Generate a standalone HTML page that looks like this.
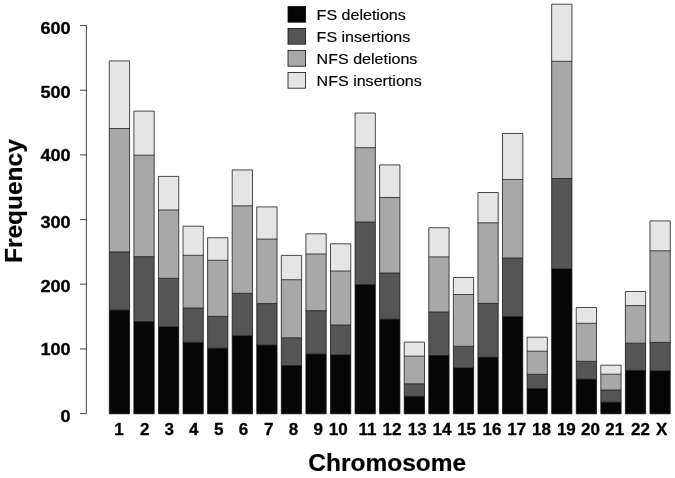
<!DOCTYPE html>
<html><head><meta charset="utf-8"><title>Chromosome frequency</title>
<style>
html,body{margin:0;padding:0;background:#fff;}
body{width:675px;height:478px;overflow:hidden;}
svg{display:block;will-change:transform;}
text{font-family:"Liberation Sans",Arial,Helvetica,sans-serif;fill:#000;}
.tk{font-size:16.45px;font-weight:bold;stroke:#000;stroke-width:0.3px;}
.ti{font-size:23.8px;font-weight:bold;stroke:#000;stroke-width:0.2px;}
.lg{font-size:14.6px;stroke:#000;stroke-width:0.15px;}
</style></head><body>
<svg width="675" height="478" viewBox="0 0 675 478">
<rect width="675" height="478" fill="#fff"/>

<g stroke="#555" stroke-width="1.1" fill="none">
<path d="M86.4 25.5V413.6"/>
<path d="M80 413.60H86.9"/>
<path d="M80 348.92H86.9"/>
<path d="M80 284.23H86.9"/>
<path d="M80 219.55H86.9"/>
<path d="M80 154.87H86.9"/>
<path d="M80 90.18H86.9"/>
<path d="M80 25.50H86.9"/>
</g>
<text class="tk" transform="translate(70.60 421.70) scale(1.1 1)" text-anchor="end">0</text>
<text class="tk" transform="translate(70.60 355.40) scale(1.1 1)" text-anchor="end">100</text>
<text class="tk" transform="translate(70.60 291.70) scale(1.1 1)" text-anchor="end">200</text>
<text class="tk" transform="translate(70.60 227.60) scale(1.1 1)" text-anchor="end">300</text>
<text class="tk" transform="translate(70.60 161.20) scale(1.1 1)" text-anchor="end">400</text>
<text class="tk" transform="translate(70.60 97.60) scale(1.1 1)" text-anchor="end">500</text>
<text class="tk" transform="translate(70.60 34.00) scale(1.1 1)" text-anchor="end">600</text>
<g stroke="none">
<rect x="109.30" y="60.90" width="20.3" height="67.60" fill="#e5e5e5"/>
<rect x="109.30" y="128.50" width="20.3" height="123.40" fill="#a8a8a8"/>
<rect x="109.30" y="251.90" width="20.3" height="58.20" fill="#555555"/>
<rect x="109.30" y="310.10" width="20.3" height="103.70" fill="#060606"/>
<rect x="133.88" y="111.10" width="20.3" height="44.10" fill="#e5e5e5"/>
<rect x="133.88" y="155.20" width="20.3" height="101.50" fill="#a8a8a8"/>
<rect x="133.88" y="256.70" width="20.3" height="64.90" fill="#555555"/>
<rect x="133.88" y="321.60" width="20.3" height="92.20" fill="#060606"/>
<rect x="158.45" y="176.40" width="20.3" height="33.60" fill="#e5e5e5"/>
<rect x="158.45" y="210.00" width="20.3" height="68.30" fill="#a8a8a8"/>
<rect x="158.45" y="278.30" width="20.3" height="48.50" fill="#555555"/>
<rect x="158.45" y="326.80" width="20.3" height="87.00" fill="#060606"/>
<rect x="183.02" y="226.20" width="20.3" height="29.10" fill="#e5e5e5"/>
<rect x="183.02" y="255.30" width="20.3" height="52.70" fill="#a8a8a8"/>
<rect x="183.02" y="308.00" width="20.3" height="34.40" fill="#555555"/>
<rect x="183.02" y="342.40" width="20.3" height="71.40" fill="#060606"/>
<rect x="207.60" y="237.70" width="20.3" height="22.60" fill="#e5e5e5"/>
<rect x="207.60" y="260.30" width="20.3" height="56.10" fill="#a8a8a8"/>
<rect x="207.60" y="316.40" width="20.3" height="31.80" fill="#555555"/>
<rect x="207.60" y="348.20" width="20.3" height="65.60" fill="#060606"/>
<rect x="232.18" y="169.90" width="20.3" height="35.90" fill="#e5e5e5"/>
<rect x="232.18" y="205.80" width="20.3" height="87.50" fill="#a8a8a8"/>
<rect x="232.18" y="293.30" width="20.3" height="42.50" fill="#555555"/>
<rect x="232.18" y="335.80" width="20.3" height="78.00" fill="#060606"/>
<rect x="256.75" y="206.90" width="20.3" height="32.20" fill="#e5e5e5"/>
<rect x="256.75" y="239.10" width="20.3" height="64.50" fill="#a8a8a8"/>
<rect x="256.75" y="303.60" width="20.3" height="41.50" fill="#555555"/>
<rect x="256.75" y="345.10" width="20.3" height="68.70" fill="#060606"/>
<rect x="281.32" y="255.40" width="20.3" height="24.30" fill="#e5e5e5"/>
<rect x="281.32" y="279.70" width="20.3" height="58.10" fill="#a8a8a8"/>
<rect x="281.32" y="337.80" width="20.3" height="27.80" fill="#555555"/>
<rect x="281.32" y="365.60" width="20.3" height="48.20" fill="#060606"/>
<rect x="305.90" y="233.80" width="20.3" height="20.20" fill="#e5e5e5"/>
<rect x="305.90" y="254.00" width="20.3" height="56.70" fill="#a8a8a8"/>
<rect x="305.90" y="310.70" width="20.3" height="43.40" fill="#555555"/>
<rect x="305.90" y="354.10" width="20.3" height="59.70" fill="#060606"/>
<rect x="330.47" y="243.80" width="20.3" height="27.20" fill="#e5e5e5"/>
<rect x="330.47" y="271.00" width="20.3" height="54.00" fill="#a8a8a8"/>
<rect x="330.47" y="325.00" width="20.3" height="29.90" fill="#555555"/>
<rect x="330.47" y="354.90" width="20.3" height="58.90" fill="#060606"/>
<rect x="355.05" y="113.00" width="20.3" height="34.70" fill="#e5e5e5"/>
<rect x="355.05" y="147.70" width="20.3" height="74.30" fill="#a8a8a8"/>
<rect x="355.05" y="222.00" width="20.3" height="62.70" fill="#555555"/>
<rect x="355.05" y="284.70" width="20.3" height="129.10" fill="#060606"/>
<rect x="379.62" y="164.90" width="20.3" height="32.60" fill="#e5e5e5"/>
<rect x="379.62" y="197.50" width="20.3" height="75.50" fill="#a8a8a8"/>
<rect x="379.62" y="273.00" width="20.3" height="46.20" fill="#555555"/>
<rect x="379.62" y="319.20" width="20.3" height="94.60" fill="#060606"/>
<rect x="404.20" y="342.10" width="20.3" height="14.00" fill="#e5e5e5"/>
<rect x="404.20" y="356.10" width="20.3" height="27.70" fill="#a8a8a8"/>
<rect x="404.20" y="383.80" width="20.3" height="12.50" fill="#555555"/>
<rect x="404.20" y="396.30" width="20.3" height="17.50" fill="#060606"/>
<rect x="428.77" y="227.70" width="20.3" height="29.20" fill="#e5e5e5"/>
<rect x="428.77" y="256.90" width="20.3" height="55.10" fill="#a8a8a8"/>
<rect x="428.77" y="312.00" width="20.3" height="43.50" fill="#555555"/>
<rect x="428.77" y="355.50" width="20.3" height="58.30" fill="#060606"/>
<rect x="453.35" y="277.50" width="20.3" height="17.00" fill="#e5e5e5"/>
<rect x="453.35" y="294.50" width="20.3" height="51.80" fill="#a8a8a8"/>
<rect x="453.35" y="346.30" width="20.3" height="21.70" fill="#555555"/>
<rect x="453.35" y="368.00" width="20.3" height="45.80" fill="#060606"/>
<rect x="477.93" y="192.50" width="20.3" height="30.30" fill="#e5e5e5"/>
<rect x="477.93" y="222.80" width="20.3" height="80.60" fill="#a8a8a8"/>
<rect x="477.93" y="303.40" width="20.3" height="53.80" fill="#555555"/>
<rect x="477.93" y="357.20" width="20.3" height="56.60" fill="#060606"/>
<rect x="502.50" y="133.50" width="20.3" height="46.00" fill="#e5e5e5"/>
<rect x="502.50" y="179.50" width="20.3" height="78.50" fill="#a8a8a8"/>
<rect x="502.50" y="258.00" width="20.3" height="58.60" fill="#555555"/>
<rect x="502.50" y="316.60" width="20.3" height="97.20" fill="#060606"/>
<rect x="527.07" y="337.20" width="20.3" height="14.00" fill="#e5e5e5"/>
<rect x="527.07" y="351.20" width="20.3" height="23.10" fill="#a8a8a8"/>
<rect x="527.07" y="374.30" width="20.3" height="14.30" fill="#555555"/>
<rect x="527.07" y="388.60" width="20.3" height="25.20" fill="#060606"/>
<rect x="551.65" y="4.20" width="20.3" height="57.10" fill="#e5e5e5"/>
<rect x="551.65" y="61.30" width="20.3" height="117.20" fill="#a8a8a8"/>
<rect x="551.65" y="178.50" width="20.3" height="90.50" fill="#555555"/>
<rect x="551.65" y="269.00" width="20.3" height="144.80" fill="#060606"/>
<rect x="576.23" y="307.50" width="20.3" height="15.80" fill="#e5e5e5"/>
<rect x="576.23" y="323.30" width="20.3" height="38.00" fill="#a8a8a8"/>
<rect x="576.23" y="361.30" width="20.3" height="17.90" fill="#555555"/>
<rect x="576.23" y="379.20" width="20.3" height="34.60" fill="#060606"/>
<rect x="600.80" y="365.20" width="20.3" height="9.00" fill="#e5e5e5"/>
<rect x="600.80" y="374.20" width="20.3" height="15.80" fill="#a8a8a8"/>
<rect x="600.80" y="390.00" width="20.3" height="12.20" fill="#555555"/>
<rect x="600.80" y="402.20" width="20.3" height="11.60" fill="#060606"/>
<rect x="625.37" y="291.50" width="20.3" height="14.10" fill="#e5e5e5"/>
<rect x="625.37" y="305.60" width="20.3" height="37.60" fill="#a8a8a8"/>
<rect x="625.37" y="343.20" width="20.3" height="27.20" fill="#555555"/>
<rect x="625.37" y="370.40" width="20.3" height="43.40" fill="#060606"/>
<rect x="649.95" y="220.90" width="20.3" height="29.90" fill="#e5e5e5"/>
<rect x="649.95" y="250.80" width="20.3" height="91.60" fill="#a8a8a8"/>
<rect x="649.95" y="342.40" width="20.3" height="28.60" fill="#555555"/>
<rect x="649.95" y="371.00" width="20.3" height="42.80" fill="#060606"/>
</g>
<g stroke="#111" stroke-width="0.75" fill="none">
<path d="M109.30 60.90H129.60V413.8H109.30ZM109.30 128.50H129.60M109.30 251.90H129.60M109.30 310.10H129.60"/>
<path d="M133.88 111.10H154.18V413.8H133.88ZM133.88 155.20H154.18M133.88 256.70H154.18M133.88 321.60H154.18"/>
<path d="M158.45 176.40H178.75V413.8H158.45ZM158.45 210.00H178.75M158.45 278.30H178.75M158.45 326.80H178.75"/>
<path d="M183.02 226.20H203.32V413.8H183.02ZM183.02 255.30H203.32M183.02 308.00H203.32M183.02 342.40H203.32"/>
<path d="M207.60 237.70H227.90V413.8H207.60ZM207.60 260.30H227.90M207.60 316.40H227.90M207.60 348.20H227.90"/>
<path d="M232.18 169.90H252.48V413.8H232.18ZM232.18 205.80H252.48M232.18 293.30H252.48M232.18 335.80H252.48"/>
<path d="M256.75 206.90H277.05V413.8H256.75ZM256.75 239.10H277.05M256.75 303.60H277.05M256.75 345.10H277.05"/>
<path d="M281.32 255.40H301.62V413.8H281.32ZM281.32 279.70H301.62M281.32 337.80H301.62M281.32 365.60H301.62"/>
<path d="M305.90 233.80H326.20V413.8H305.90ZM305.90 254.00H326.20M305.90 310.70H326.20M305.90 354.10H326.20"/>
<path d="M330.47 243.80H350.77V413.8H330.47ZM330.47 271.00H350.77M330.47 325.00H350.77M330.47 354.90H350.77"/>
<path d="M355.05 113.00H375.35V413.8H355.05ZM355.05 147.70H375.35M355.05 222.00H375.35M355.05 284.70H375.35"/>
<path d="M379.62 164.90H399.93V413.8H379.62ZM379.62 197.50H399.93M379.62 273.00H399.93M379.62 319.20H399.93"/>
<path d="M404.20 342.10H424.50V413.8H404.20ZM404.20 356.10H424.50M404.20 383.80H424.50M404.20 396.30H424.50"/>
<path d="M428.77 227.70H449.07V413.8H428.77ZM428.77 256.90H449.07M428.77 312.00H449.07M428.77 355.50H449.07"/>
<path d="M453.35 277.50H473.65V413.8H453.35ZM453.35 294.50H473.65M453.35 346.30H473.65M453.35 368.00H473.65"/>
<path d="M477.93 192.50H498.23V413.8H477.93ZM477.93 222.80H498.23M477.93 303.40H498.23M477.93 357.20H498.23"/>
<path d="M502.50 133.50H522.80V413.8H502.50ZM502.50 179.50H522.80M502.50 258.00H522.80M502.50 316.60H522.80"/>
<path d="M527.07 337.20H547.37V413.8H527.07ZM527.07 351.20H547.37M527.07 374.30H547.37M527.07 388.60H547.37"/>
<path d="M551.65 4.20H571.95V413.8H551.65ZM551.65 61.30H571.95M551.65 178.50H571.95M551.65 269.00H571.95"/>
<path d="M576.23 307.50H596.52V413.8H576.23ZM576.23 323.30H596.52M576.23 361.30H596.52M576.23 379.20H596.52"/>
<path d="M600.80 365.20H621.10V413.8H600.80ZM600.80 374.20H621.10M600.80 390.00H621.10M600.80 402.20H621.10"/>
<path d="M625.37 291.50H645.67V413.8H625.37ZM625.37 305.60H645.67M625.37 343.20H645.67M625.37 370.40H645.67"/>
<path d="M649.95 220.90H670.25V413.8H649.95ZM649.95 250.80H670.25M649.95 342.40H670.25M649.95 371.00H670.25"/>
</g>
<text class="tk" transform="translate(118.90 434.55) scale(1.035 1)" text-anchor="middle">1</text>
<text class="tk" transform="translate(144.67 434.55) scale(1.035 1)" text-anchor="middle">2</text>
<text class="tk" transform="translate(169.12 434.55) scale(1.035 1)" text-anchor="middle">3</text>
<text class="tk" transform="translate(193.83 434.55) scale(1.035 1)" text-anchor="middle">4</text>
<text class="tk" transform="translate(218.78 434.55) scale(1.035 1)" text-anchor="middle">5</text>
<text class="tk" transform="translate(243.50 434.55) scale(1.035 1)" text-anchor="middle">6</text>
<text class="tk" transform="translate(268.62 434.55) scale(1.035 1)" text-anchor="middle">7</text>
<text class="tk" transform="translate(293.50 434.55) scale(1.035 1)" text-anchor="middle">8</text>
<text class="tk" transform="translate(318.22 434.55) scale(1.035 1)" text-anchor="middle">9</text>
<text class="tk" transform="translate(338.32 434.55) scale(1.035 1)" text-anchor="middle">10</text>
<text class="tk" transform="translate(367.47 434.55) scale(1.035 1)" text-anchor="middle">11</text>
<text class="tk" transform="translate(391.97 434.55) scale(1.035 1)" text-anchor="middle">12</text>
<text class="tk" transform="translate(417.15 434.55) scale(1.035 1)" text-anchor="middle">13</text>
<text class="tk" transform="translate(441.95 434.55) scale(1.035 1)" text-anchor="middle">14</text>
<text class="tk" transform="translate(466.62 434.55) scale(1.035 1)" text-anchor="middle">15</text>
<text class="tk" transform="translate(491.93 434.55) scale(1.035 1)" text-anchor="middle">16</text>
<text class="tk" transform="translate(516.65 434.55) scale(1.035 1)" text-anchor="middle">17</text>
<text class="tk" transform="translate(541.48 434.55) scale(1.035 1)" text-anchor="middle">18</text>
<text class="tk" transform="translate(566.38 434.55) scale(1.035 1)" text-anchor="middle">19</text>
<text class="tk" transform="translate(590.40 434.55) scale(1.035 1)" text-anchor="middle">20</text>
<text class="tk" transform="translate(614.82 434.55) scale(1.035 1)" text-anchor="middle">21</text>
<text class="tk" transform="translate(640.40 434.55) scale(1.035 1)" text-anchor="middle">22</text>
<text class="tk" transform="translate(661.55 434.55) scale(1.035 1)" text-anchor="middle">X</text>
<text class="ti" transform="translate(387.30 471.20) scale(1.03 1)" text-anchor="middle">Chromosome</text>
<text class="ti" transform="translate(21.70 201.10) rotate(-90) scale(1.03 1)" text-anchor="middle">Frequency</text>
<rect x="288.0" y="6.40" width="17.6" height="15.8" fill="#060606" stroke="#111" stroke-width="0.8"/>
<text class="lg" transform="translate(316.60 20.45) scale(1.1 1)" text-anchor="start">FS deletions</text>
<rect x="288.0" y="28.40" width="17.6" height="15.8" fill="#555555" stroke="#111" stroke-width="0.8"/>
<text class="lg" transform="translate(316.60 41.95) scale(1.1 1)" text-anchor="start">FS insertions</text>
<rect x="288.0" y="50.40" width="17.6" height="15.8" fill="#a8a8a8" stroke="#111" stroke-width="0.8"/>
<text class="lg" transform="translate(316.60 63.80) scale(1.1 1)" text-anchor="start">NFS deletions</text>
<rect x="288.0" y="72.40" width="17.6" height="15.8" fill="#e5e5e5" stroke="#111" stroke-width="0.8"/>
<text class="lg" transform="translate(316.60 85.65) scale(1.1 1)" text-anchor="start">NFS insertions</text>
</svg></body></html>
